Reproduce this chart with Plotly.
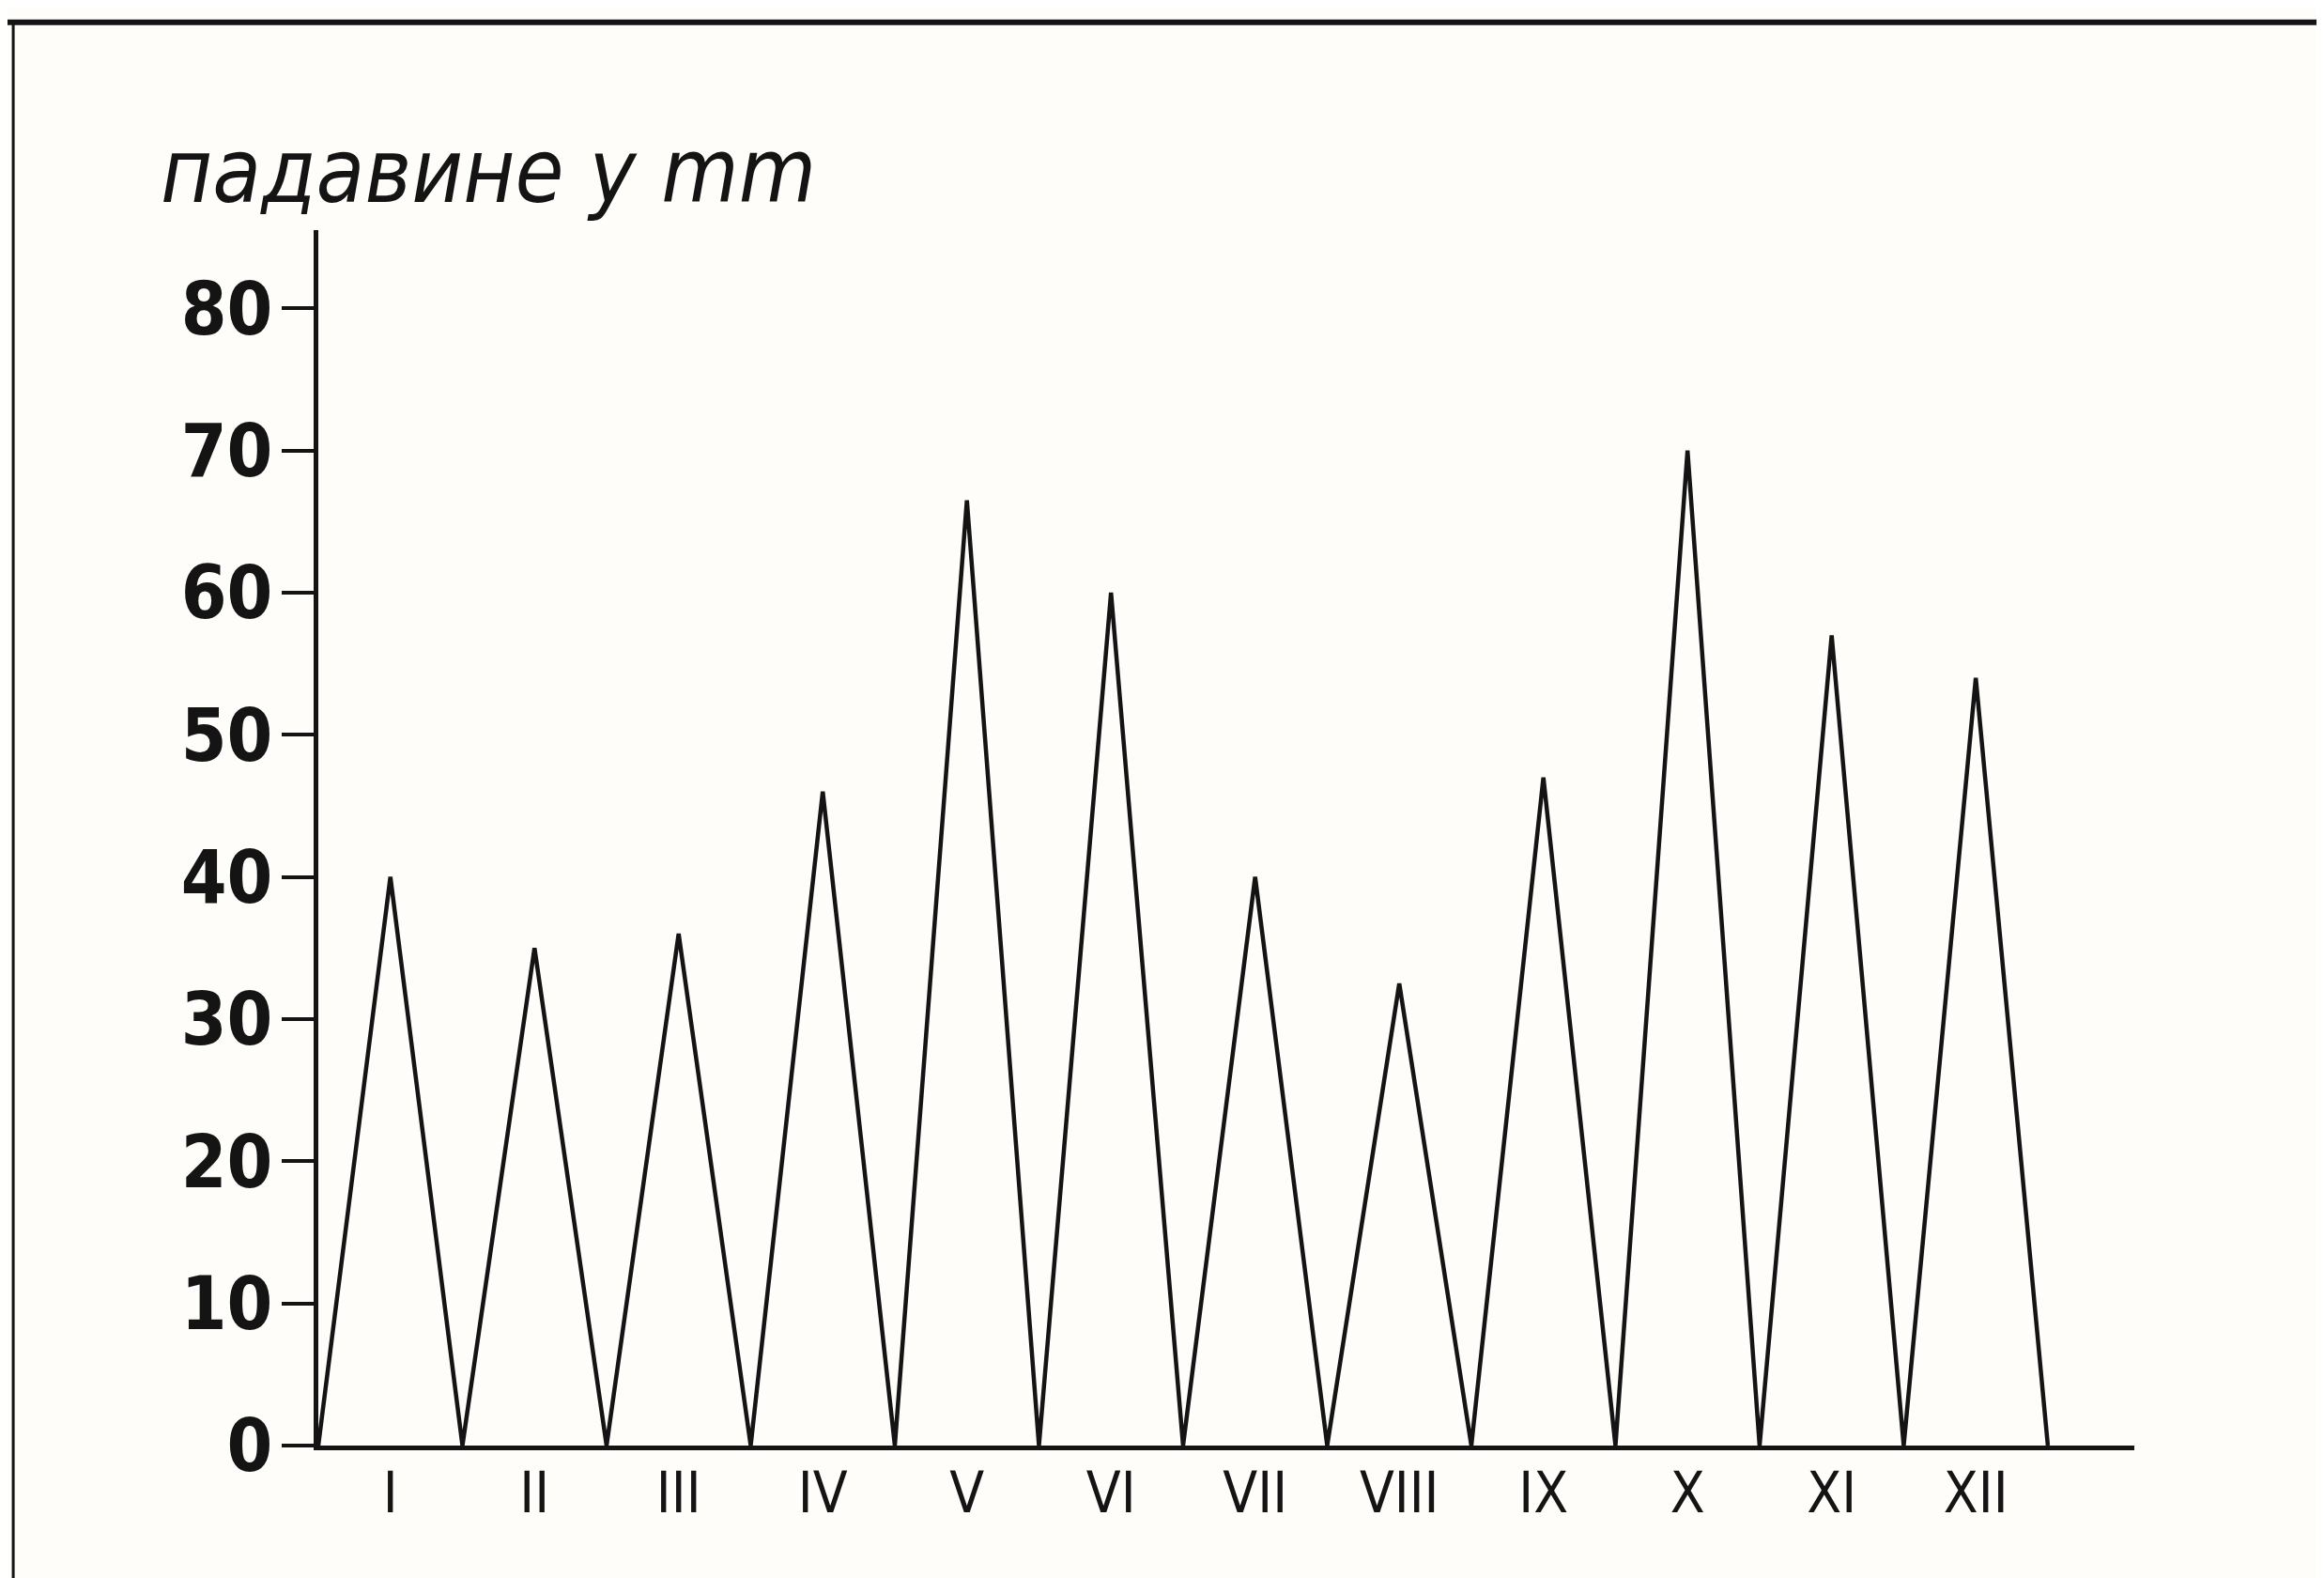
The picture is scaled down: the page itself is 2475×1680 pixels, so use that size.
"""Graf padavina po mjesecima (trougaoni dijagram), rekonstrukcija skenirane slike."""
import plotly.graph_objects as go

# Mjeseci (rimski brojevi) i padavine u mm
months = ["I", "II", "III", "IV", "V", "VI", "VII", "VIII", "IX", "X", "XI", "XII"]
rain_mm = [40, 35, 36, 46, 66.5, 60, 40, 32.5, 47, 70, 57, 54]
y_ticks = [0, 10, 20, 30, 40, 50, 60, 70, 80]

# Svaki mjesec je trougao: osnova na granicama mjeseca, vrh na sredini.
xs, ys = [], []
for i, v in enumerate(rain_mm):
    xs += [i, i + 0.5]
    ys += [0, v]
xs.append(len(rain_mm))
ys.append(0)

ink = "#141414"

fig = go.Figure()
fig.add_trace(go.Scatter(
    x=xs, y=ys, mode="lines",
    line=dict(color=ink, width=4.5),
    hoverinfo="skip", showlegend=False,
))

fig.update_layout(
    width=2475, height=1680,
    paper_bgcolor="#fefdfa", plot_bgcolor="#fefdfa",
    margin=dict(l=331, r=210, t=237, b=149),
    showlegend=False,
    xaxis=dict(
        range=[0, 12.6],
        tickvals=[i + 0.5 for i in range(len(months))],
        ticktext=months,
        ticks="", ticklabelstandoff=-6,
        tickfont=dict(family="DejaVu Sans Condensed, sans-serif",
                      size=60, color=ink),
        showgrid=False, zeroline=False,
        showline=True, linecolor=ink, linewidth=5,
    ),
    yaxis=dict(
        range=[0, 85.5],
        tickvals=y_ticks,
        ticks="outside", ticklen=34, tickwidth=4, tickcolor=ink,
        ticklabelstandoff=-6,
        tickfont=dict(family="DejaVu Sans Condensed, sans-serif",
                      size=78, color=ink, weight="bold"),
        showgrid=False, zeroline=False,
        showline=True, linecolor=ink, linewidth=5,
    ),
)

# Naslov ose (rukom pisan u originalu)
fig.add_annotation(
    text="падавине у mm",
    xref="paper", yref="paper", x=-0.088, y=1.048,
    xanchor="left", yanchor="middle", showarrow=False,
    font=dict(family="DejaVu Sans Condensed, DejaVu Sans, sans-serif",
              size=94, color=ink, style="italic"),
)

# Okvir slike
fig.add_shape(type="line", xref="paper", yref="paper",
              x0=-0.175, x1=1.11, y0=1.171, y1=1.171,
              line=dict(color=ink, width=6))
fig.add_shape(type="line", xref="paper", yref="paper",
              x0=-0.168, x1=-0.168, y0=1.171, y1=-0.11,
              line=dict(color=ink, width=3))

fig.write_html("out.html")
